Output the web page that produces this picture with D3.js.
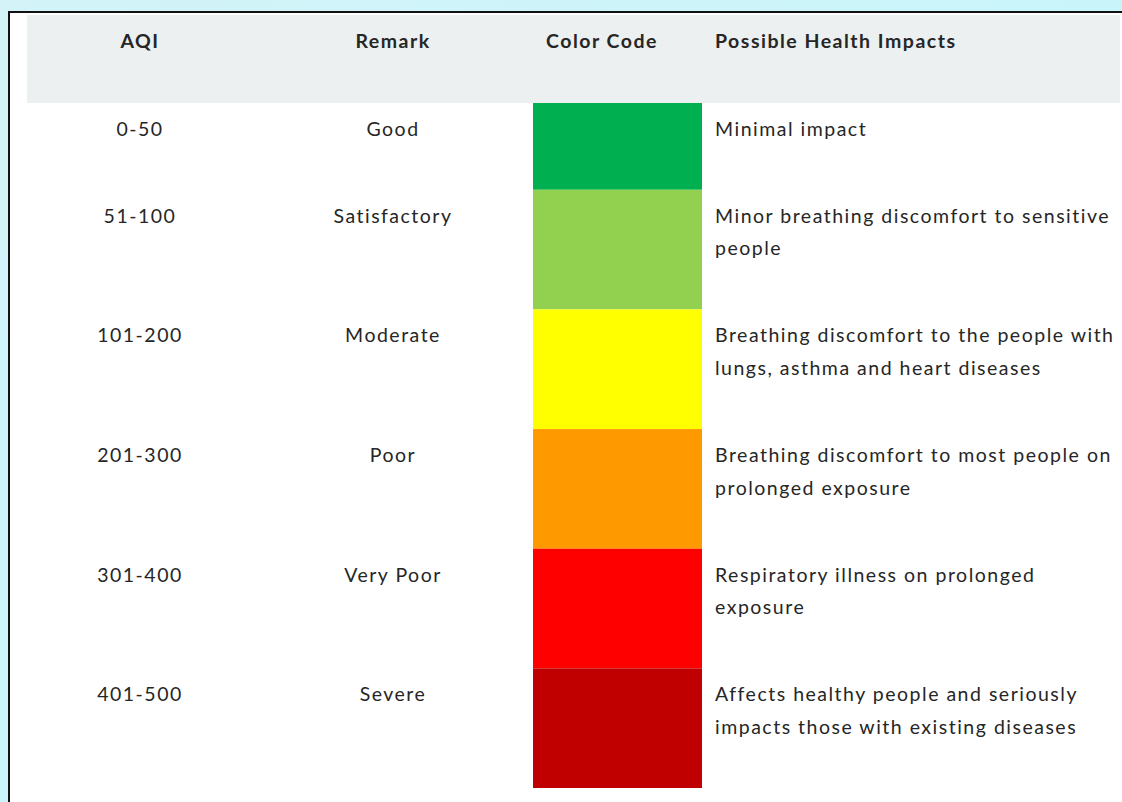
<!DOCTYPE html>
<html>
<head>
<meta charset="utf-8">
<script src="https://cdn.jsdelivr.net/npm/d3@7"></script>
<style>
  html, body { margin: 0; padding: 0; }
  svg { display: block; }
  text { font-family: Lato, "Open Sans", sans-serif; fill: #262626; letter-spacing: 1.5px; }
  .head { font-weight: bold; font-size: 19.5px; }
  .cell { font-size: 19.5px; }
</style>
</head>
<body>
<svg id="chart" width="1122" height="802"></svg>
<script>
// table content
var headers = ['AQI', 'Remark', 'Color Code', 'Possible Health Impacts'];
var aqiRanges = ['0-50', '51-100', '101-200', '201-300', '301-400', '401-500'];
var remarks = ['Good', 'Satisfactory', 'Moderate', 'Poor', 'Very Poor', 'Severe'];
var colorCodes = ['#00b050', '#92d050', '#ffff00', '#ff9900', '#ff0000', '#c00000'];
var impacts = [
    ['Minimal impact'],
    ['Minor breathing discomfort to sensitive', 'people'],
    ['Breathing discomfort to the people with', 'lungs, asthma and heart diseases'],
    ['Breathing discomfort to most people on', 'prolonged exposure'],
    ['Respiratory illness on prolonged', 'exposure'],
    ['Affects healthy people and seriously', 'impacts those with existing diseases']
];

var svg = d3.select('#chart');
var width = +svg.attr('width');
var height = +svg.attr('height');

// background gradient behind the white sheet
var defs = svg.append('defs');
var grad = defs.append('linearGradient')
    .attr('id', 'bg')
    .attr('x1', 0).attr('y1', 0).attr('x2', 1).attr('y2', 1);
grad.append('stop').attr('offset', '0%').attr('stop-color', '#d3f3f8');
grad.append('stop').attr('offset', '50%').attr('stop-color', '#c9f5fa');
grad.append('stop').attr('offset', '100%').attr('stop-color', '#e3f0f2');

svg.append('rect')
    .attr('width', width).attr('height', height)
    .attr('fill', 'url(#bg)');

// white sheet with dark border (runs off right and bottom)
svg.append('rect')
    .attr('x', 9).attr('y', 12)
    .attr('width', width + 20).attr('height', height + 20)
    .attr('fill', '#ffffff')
    .attr('stroke', '#111')
    .attr('stroke-width', 2);

var header = {top: 15, bottom: 103, left: 27, right: 1120};
var tableBottom = 788;

// column layout
var col = {
    aqi: 140,
    remark: 393,
    codeText: 602,
    swatchL: 533,
    swatchR: 702,
    impact: 715
};

svg.append('rect')
    .attr('x', header.left).attr('y', header.top)
    .attr('width', header.right - header.left)
    .attr('height', header.bottom - header.top)
    .attr('fill', '#ecf0f1');

var headX = [col.aqi, col.remark, col.codeText, col.impact];
var headAnchor = ['middle', 'middle', 'middle', 'start'];
svg.selectAll('.head').data(headers).enter().append('text')
    .attr('class', 'head')
    .attr('x', function(d, i) { return headX[i]; })
    .attr('y', 41)
    .attr('dy', '0.35em')
    .attr('text-anchor', function(d, i) { return headAnchor[i]; })
    .text(function(d) { return d; });

// row heights follow the number of text lines (spreadsheet auto-fit)
var padUnits = 1.64;
var rows = aqiRanges.map(function(a, i) {
    return {aqi: a, remark: remarks[i], color: colorCodes[i], lines: impacts[i]};
});
var acc = 0;
rows.forEach(function(r) {
    r.start = acc;
    acc += r.lines.length + padUnits;
    r.end = acc;
});

var y = d3.scaleLinear()
    .domain([0, acc])
    .range([header.bottom, tableBottom]);

var lineStep = y(1) - y(0);

var rowG = svg.selectAll('.row').data(rows).enter().append('g')
    .attr('class', 'row')
    .attr('transform', function(d) { return 'translate(0,' + y(d.start) + ')'; });

rowG.append('rect')
    .attr('x', col.swatchL)
    .attr('y', 0)
    .attr('width', col.swatchR - col.swatchL)
    .attr('height', function(d) { return y(d.end) - y(d.start); })
    .attr('fill', function(d) { return d.color; });

var textTop = 26;

rowG.append('text')
    .attr('class', 'cell')
    .attr('x', col.aqi)
    .attr('y', textTop)
    .attr('dy', '0.35em')
    .attr('text-anchor', 'middle')
    .text(function(d) { return d.aqi; });

rowG.append('text')
    .attr('class', 'cell')
    .attr('x', col.remark)
    .attr('y', textTop)
    .attr('dy', '0.35em')
    .attr('text-anchor', 'middle')
    .text(function(d) { return d.remark; });

rowG.selectAll('.impact').data(function(d) { return d.lines; }).enter().append('text')
    .attr('class', 'cell impact')
    .attr('x', col.impact)
    .attr('y', function(d, i) { return textTop + i * lineStep; })
    .attr('dy', '0.35em')
    .text(function(d) { return d; });
</script>
</body>
</html>
